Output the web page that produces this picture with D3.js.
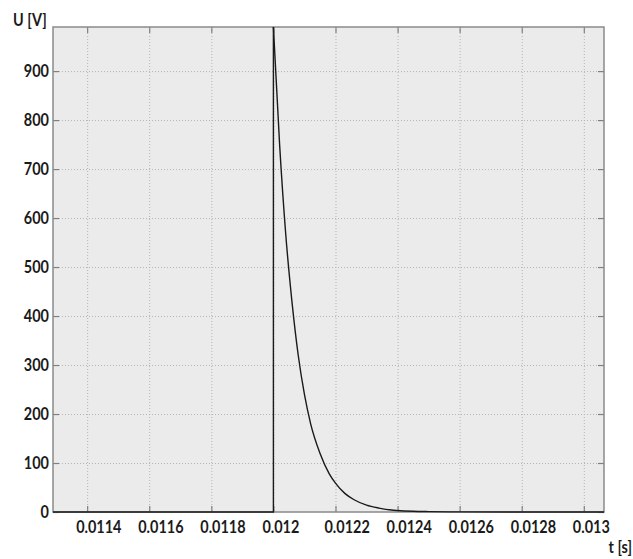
<!DOCTYPE html>
<html>
<head>
<meta charset="utf-8">
<script src="https://cdn.jsdelivr.net/npm/d3@7"></script>
<style>
    body { margin: 0; background: #fff; }
    svg { display: block; }
</style>
</head>
<body>
<svg id="chart" width="633" height="559"></svg>
<script>
// voltage decay
let timeValues = [0.01129, 0.0120, 0.0120, 0.01202, 0.01204, 0.01206, 0.01208, 0.0121, 0.01212, 0.01215,
    0.01218, 0.0122, 0.01223, 0.01226, 0.0123, 0.01234, 0.01238, 0.0124, 0.01245, 0.0125, 0.0126, 0.0128, 0.013065];
let voltageValues = [0, 0, 990, 750, 565, 428, 320, 240, 180, 120,
    78, 59, 38, 25, 14, 8, 4, 3, 1.5, 0.8, 0.2, 0, 0];
let xTicks = [0.0114, 0.0116, 0.0118, 0.012, 0.0122, 0.0124, 0.0126, 0.0128, 0.013];
let xTickLabels = ["0.0114", "0.0116", "0.0118", "0.012", "0.0122", "0.0124", "0.0126", "0.0128", "0.013"];
let yTicks = [0, 100, 200, 300, 400, 500, 600, 700, 800, 900];

let data = timeValues.map(function(t, i) { return { t: t, u: voltageValues[i] }; });

let margin = { top: 27, right: 29, bottom: 47, left: 53 };
let svgWidth = 633, svgHeight = 559;
let width = svgWidth - margin.left - margin.right;
let height = svgHeight - margin.top - margin.bottom;

let svg = d3.select("#chart");
let g = svg.append("g")
    .attr("transform", "translate(" + margin.left + "," + margin.top + ")");

let x = d3.scaleLinear().domain([0.01129, 0.013065]).range([0, width]);
let y = d3.scaleLinear().domain([0, 990]).range([height, 0]);

g.append("rect")
    .attr("width", width)
    .attr("height", height)
    .attr("fill", "#ebebeb");

// dotted grid
g.append("g")
    .call(d3.axisBottom(x).tickValues(xTicks).tickSize(height).tickFormat(""))
    .call(function(a) { a.select(".domain").remove(); })
    .selectAll("line")
    .attr("stroke", "#b4b4b4")
    .attr("stroke-dasharray", "1,2");

g.append("g")
    .call(d3.axisLeft(y).tickValues(yTicks.slice(1)).tickSize(-width).tickFormat(""))
    .call(function(a) { a.select(".domain").remove(); })
    .selectAll("line")
    .attr("stroke", "#b4b4b4")
    .attr("stroke-dasharray", "1,2");

// inner ticks on all four sides
function styleTicks(a) {
    a.select(".domain").remove();
    a.selectAll("line").attr("stroke", "#808080").attr("stroke-width", 1.2);
}

g.append("g")
    .attr("transform", "translate(0," + height + ")")
    .call(d3.axisBottom(x).tickValues(xTicks).tickSize(-6).tickFormat(""))
    .call(styleTicks);

g.append("g")
    .call(d3.axisTop(x).tickValues(xTicks).tickSize(-6).tickFormat(""))
    .call(styleTicks);

g.append("g")
    .call(d3.axisLeft(y).tickValues(yTicks).tickSize(-6).tickFormat(""))
    .call(styleTicks);

g.append("g")
    .attr("transform", "translate(" + width + ",0)")
    .call(d3.axisRight(y).tickValues(yTicks).tickSize(-6).tickFormat(""))
    .call(styleTicks);

// narrow, tall bold labels like the scanned original
function labelStyle(sel) {
    sel.style("font-family", "Lato, 'Open Sans', sans-serif")
        .style("font-weight", "bold")
        .style("font-size", "17px")
        .attr("fill", "#1a1a1a");
}

g.selectAll(".xlab")
    .data(xTicks)
    .enter().append("text")
    .attr("transform", function(d) { return "translate(" + (x(d) - 11) + "," + (height + 21) + ") scale(0.85,1)"; })
    .attr("text-anchor", "start")
    .call(labelStyle)
    .text(function(d, i) { return xTickLabels[i]; });

g.selectAll(".ylab")
    .data(yTicks)
    .enter().append("text")
    .attr("transform", function(d) { return "translate(-4," + y(d) + ") scale(0.85,1)"; })
    .attr("dy", "0.36em")
    .attr("text-anchor", "end")
    .call(labelStyle)
    .text(function(d) { return d; });

// frame
g.append("rect")
    .attr("width", width)
    .attr("height", height)
    .attr("fill", "none")
    .attr("stroke", "#8a8a8a")
    .attr("stroke-width", 1.5);

// jump at t = 0.012, then the decay
let straight = d3.line()
    .x(function(d) { return x(d.t); })
    .y(function(d) { return y(d.u); });

let smooth = d3.line()
    .x(function(d) { return x(d.t); })
    .y(function(d) { return y(d.u); })
    .curve(d3.curveMonotoneX);

g.append("path")
    .datum(data.slice(0, 3))
    .attr("fill", "none")
    .attr("stroke", "#1a1a1a")
    .attr("stroke-width", 1.4)
    .attr("d", straight);

g.append("path")
    .datum(data.slice(2))
    .attr("fill", "none")
    .attr("stroke", "#1a1a1a")
    .attr("stroke-width", 1.4)
    .attr("stroke-linejoin", "round")
    .attr("d", smooth);

// axis titles
svg.append("text")
    .attr("transform", "translate(13,26) scale(0.85,1)")
    .call(labelStyle)
    .text("U [V]");

svg.append("text")
    .attr("transform", "translate(632,553) scale(0.85,1)")
    .attr("text-anchor", "end")
    .call(labelStyle)
    .text("t [s]");
</script>
</body>
</html>
